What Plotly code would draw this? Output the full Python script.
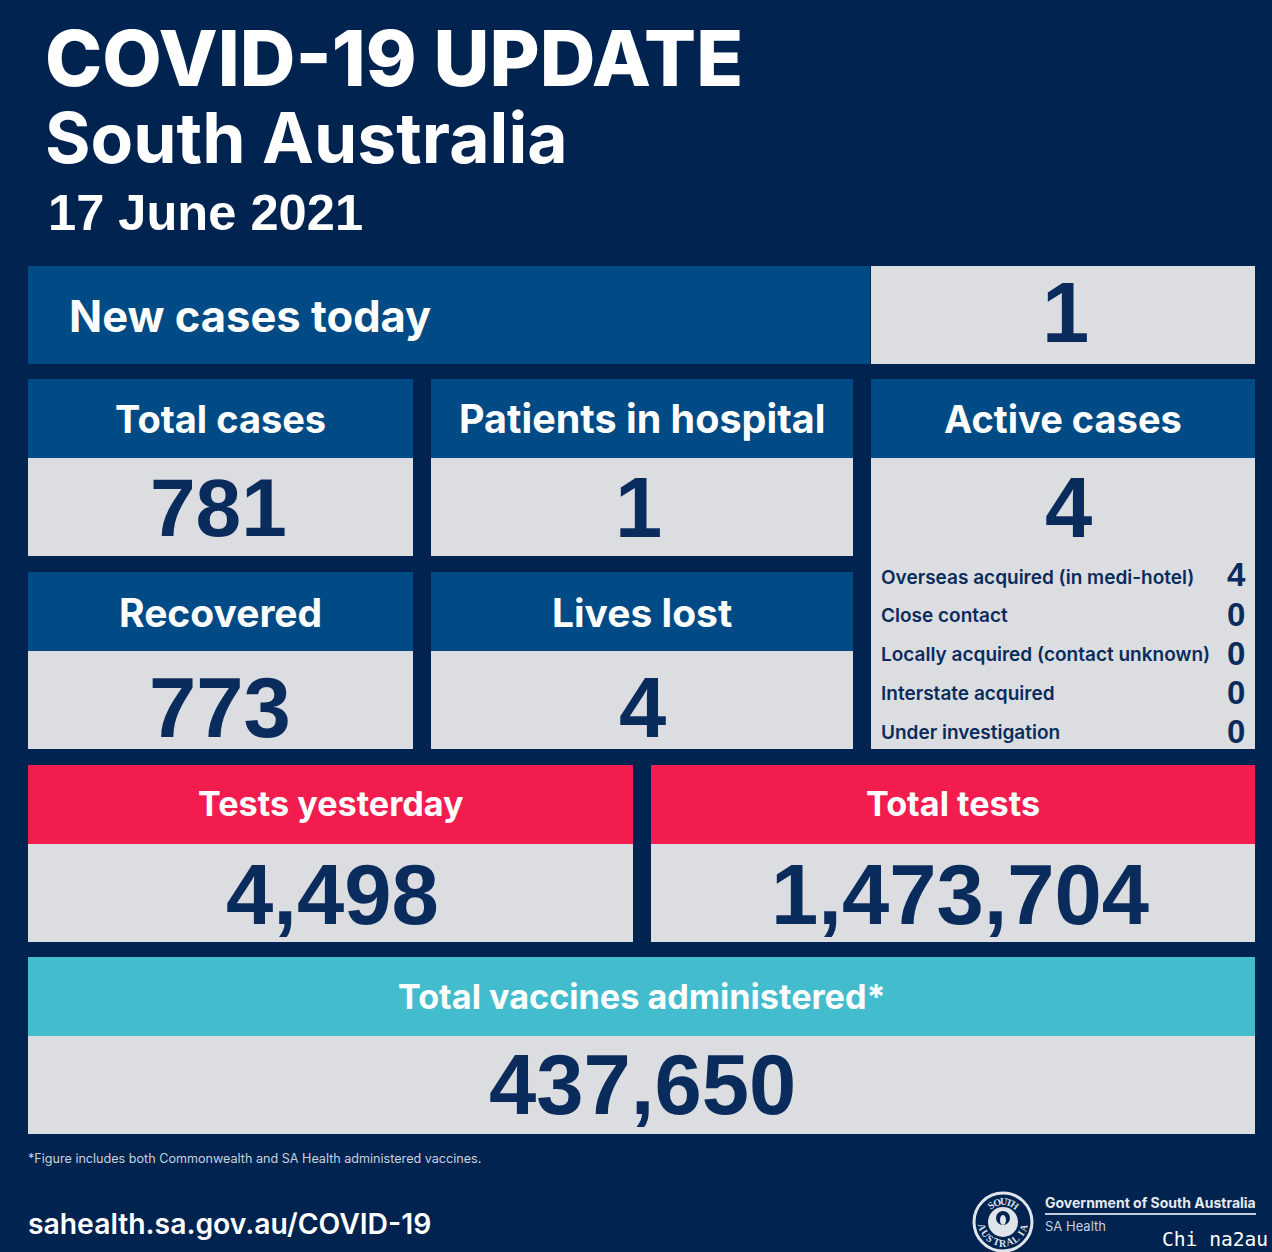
import math
import plotly.graph_objects as go

W = 1272
H = 1252

NAVY = '#00234f'
BLUE = '#004b85'
GREY = '#dcdde0'
RED = '#f21c4f'
TEAL = '#43bccd'
INK = '#0a2c5c'

SANS = 'Inter'
ARIAL = 'Liberation Sans'

title_line = 'COVID-19 UPDATE'
state_line = 'South Australia'
date_line = '17 June 2021'

new_cases_label = 'New cases today'
new_cases_value = '1'

# small panels
stat_labels = ['Total cases', 'Patients in hospital', 'Recovered', 'Lives lost']
stat_values = ['781', '1', '773', '4']

active_label = 'Active cases'
active_value = '4'
active_parts = ['Overseas acquired (in medi-hotel)', 'Close contact',
                'Locally acquired (contact unknown)', 'Interstate acquired',
                'Under investigation']
active_counts = ['4', '0', '0', '0', '0']

test_labels = ['Tests yesterday', 'Total tests']
test_values = ['4,498', '1,473,704']

vaccine_label = 'Total vaccines administered*'
vaccine_value = '437,650'

footnote = '*Figure includes both Commonwealth and SA Health administered vaccines.'
site = 'sahealth.sa.gov.au/COVID-19'
gov_name = 'Government of South Australia'
gov_unit = 'SA Health'
seal_top = 'SOUTH'
seal_bottom = 'AUSTRALIA'
watermark = 'Chi na2au'

fig = go.Figure()


def box(x0, y0, x1, y1, color):
    fig.add_shape(type='rect', x0=x0, y0=y0, x1=x1, y1=y1, fillcolor=color, line_width=0, layer='below')


def text(x, y, s, size, color='white', family=SANS, weight=700, anchor='center', angle=0):
    fig.add_annotation(x=x, y=y, text=s, showarrow=False, xanchor=anchor, yanchor='middle',
                       textangle=angle, font=dict(size=size, color=color, family=family, weight=weight))


def panel(x0, x1, y0, label, value, head=BLUE, label_size=38, value_size=85, value_x=None, value_y=130, label_y=40):
    box(x0, y0, x1, y0 + 79, head)
    box(x0, y0 + 79, x1, y0 + 177, GREY)
    text((x0 + x1) / 2, y0 + label_y, label, label_size)
    text(value_x or (x0 + x1) / 2, y0 + value_y, value, value_size, INK, ARIAL)


# header
text(43, 58, title_line, 77, anchor='left', weight=800)
text(43, 138, state_line, 69.6, anchor='left', weight=700)
text(46, 212, date_line, 50.6, anchor='left', family=ARIAL)

# new cases row
box(28, 266, 870, 364, BLUE)
box(871, 266, 1255, 364, GREY)
text(67, 316, new_cases_label, 43.5, anchor='left')
text(1065, 312, new_cases_value, 85, INK, ARIAL)

# stat panels
panel(28, 413, 379, stat_labels[0], stat_values[0], value_size=82, value_x=218, value_y=128)
panel(431, 853, 379, stat_labels[1], stat_values[1], label_size=39.5, value_x=638, value_y=128)
panel(28, 413, 572, stat_labels[2], stat_values[2], label_size=39, value_x=220, value_y=135)
panel(431, 853, 572, stat_labels[3], stat_values[3], label_size=39, value_y=135)

# active cases panel
box(871, 379, 1255, 458, BLUE)
box(871, 458, 1255, 749, GREY)
text(1063, 419, active_label, 38)
text(1068, 507, active_value, 85, INK, ARIAL)
for i in range(len(active_parts)):
    y = 577 + i * 38.8
    text(879, y, active_parts[i], 19, INK, anchor='left', weight=600)
    text(1236, y - 3 if i == 0 else y - 1, active_counts[i], 33, INK, ARIAL)

# tests and vaccines
panel(28, 633, 765, test_labels[0], test_values[0], head=RED, label_size=34.2, value_x=332, value_y=129, label_y=38)
panel(651, 1255, 765, test_labels[1], test_values[1], head=RED, label_size=34.2, value_x=960, value_y=129, label_y=38)
panel(28, 1255, 957, vaccine_label, vaccine_value, head=TEAL, label_size=34.2, value_x=642, value_y=127, label_y=39)

# footer
text(26, 1158, footnote, 12.6, '#c9d2de', anchor='left', weight=400)
text(26, 1224, site, 28.3, anchor='left', weight=600)
text(1043, 1202, gov_name, 14, '#e6eaf0', anchor='left', weight=700)
fig.add_shape(type='line', x0=1045, x1=1256, y0=1214, y1=1214, line=dict(color='#c3ccd8', width=2))
text(1043, 1226, gov_unit, 13, '#c9d2de', anchor='left', weight=400)
text(1215, 1239, watermark, 19.6, 'white', 'DejaVu Sans Mono', 400)

# seal
cx, cy = 1003, 1222
fig.add_shape(type='circle', x0=cx - 29, x1=cx + 29, y0=cy - 29, y1=cy + 29, line=dict(color='#dfe4ea', width=3))
fig.add_shape(type='circle', x0=cx - 15, x1=cx + 15, y0=cy - 15, y1=cy + 15, fillcolor='#dfe4ea', line_width=0)
fig.add_shape(type='circle', x0=cx - 7, x1=cx + 7, y0=cy - 11, y1=cy + 3, fillcolor=NAVY, line_width=0)
fig.add_shape(type='circle', x0=cx - 3, x1=cx + 3, y0=cy - 7, y1=cy + 3, fillcolor='#dfe4ea', line_width=0)
for i, ch in enumerate(seal_top):
    a = -36 + i * 18
    text(cx + 21 * math.sin(math.radians(a)), cy - 21 * math.cos(math.radians(a)), ch, 10, '#dfe4ea', 'Liberation Serif', 700, angle=a)
for i, ch in enumerate(seal_bottom):
    a = -76 + i * 19
    text(cx + 21 * math.sin(math.radians(a)), cy + 21 * math.cos(math.radians(a)), ch, 10, '#dfe4ea', 'Liberation Serif', 700, angle=-a)

fig.update_xaxes(range=[0, W], visible=False, fixedrange=True)
fig.update_yaxes(range=[H, 0], visible=False, fixedrange=True)
fig.update_layout(width=W, height=H, margin=dict(l=0, r=0, t=0, b=0), showlegend=False,
                  paper_bgcolor=NAVY, plot_bgcolor=NAVY)

fig.write_html('out.html', config={'displayModeBar': False},
               post_script="document.body.style.margin='0';document.body.style.background='%s';" % NAVY)
